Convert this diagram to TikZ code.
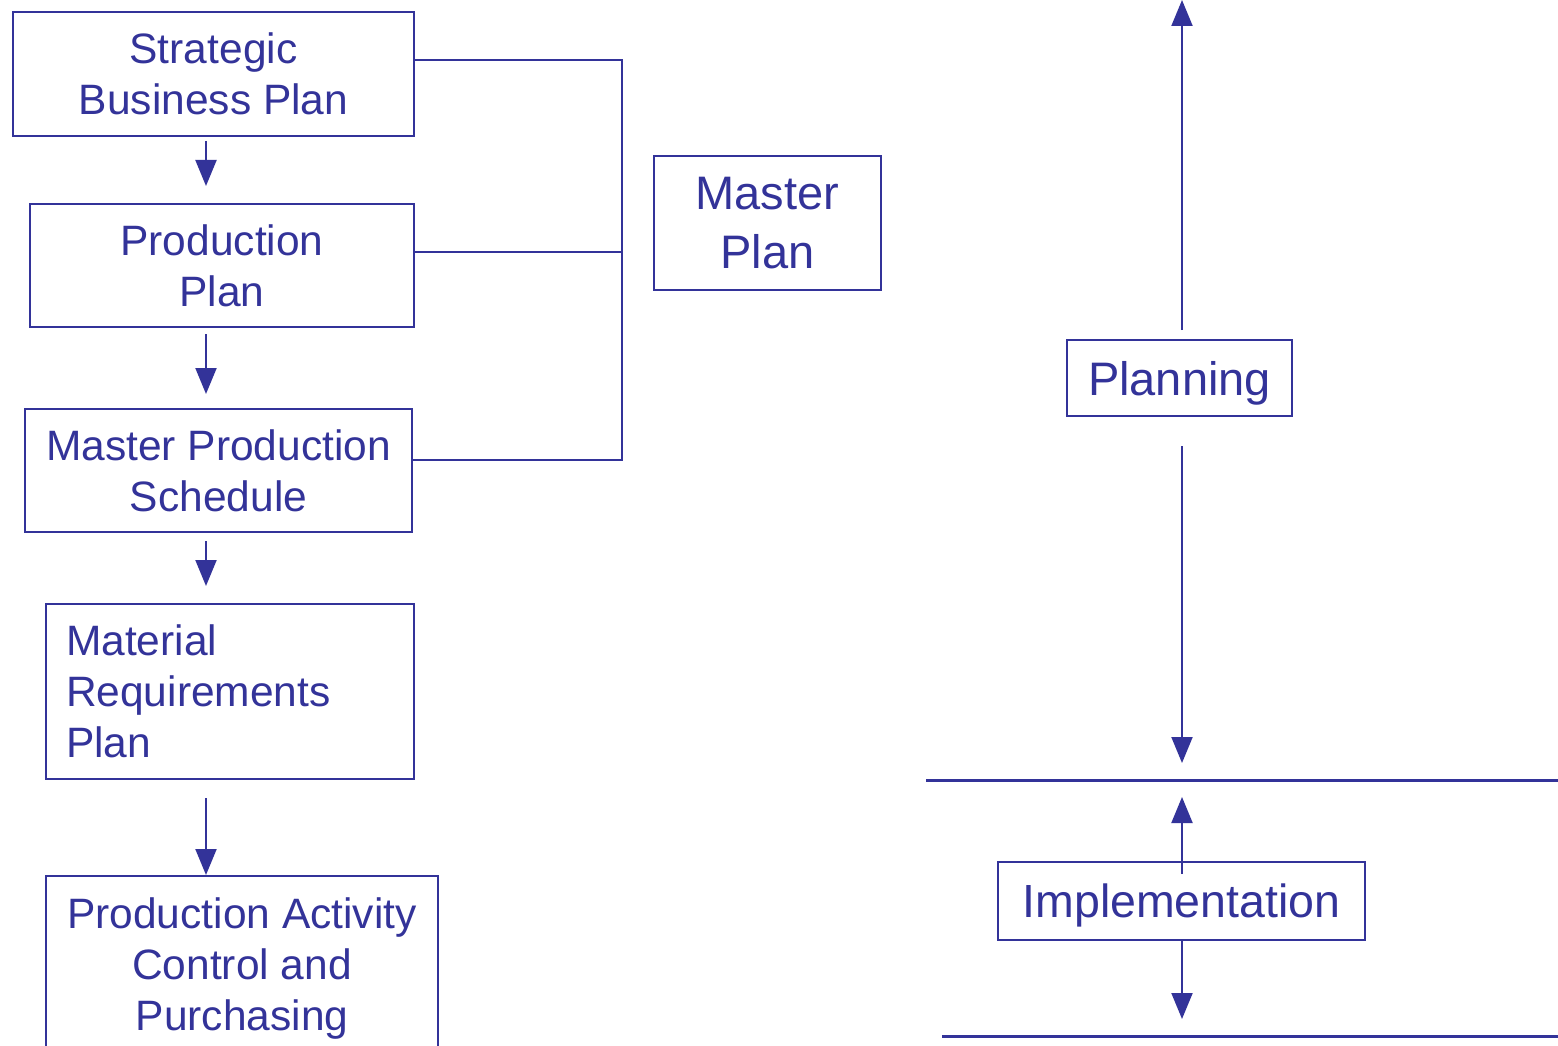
\documentclass[tikz,border=0pt]{standalone}
\usepackage{fontspec}
\setmainfont{Liberation Sans}
\usetikzlibrary{arrows.meta}
\definecolor{mpblue}{HTML}{333399}
\tikzset{
  box/.style={draw=mpblue, line width=2pt, text=mpblue, inner sep=0pt,
    font=\fontsize{42.5}{51}\selectfont, align=center},
  bigbox/.style={box, font=\fontsize{47}{59}\selectfont},
  arr/.style={draw=mpblue, line width=2pt, -{Triangle[length=26pt,width=21pt]}},
  link/.style={draw=mpblue, line width=2pt},
  rule/.style={draw=mpblue, line width=3pt}
}
\begin{document}
\begin{tikzpicture}[x=1pt,y=-1pt]
\useasboundingbox (0,0) rectangle (1558,1046);
% left column
\node[box, minimum width=401pt, minimum height=124pt] (sbp) at (213.5,74) {Strategic\\Business Plan};
\node[box, minimum width=384pt, minimum height=123pt] (pp) at (222,265.5) {Production\\Plan};
\node[box, minimum width=387pt, minimum height=123pt] (mps) at (218.5,470.5) {Master Production\\Schedule};
\node[box, minimum width=368pt, minimum height=175pt, align=left, text width=328pt, inner xsep=20pt] (mrp) at (230,691.5) {Material\\Requirements\\Plan};
\node[box, minimum width=392pt, minimum height=176pt] (pac) at (242,964) {\rule{0pt}{39pt}Production Activity\\Control and\\Purchasing};
\coordinate (ax) at (206,0);
\draw[arr, shorten <=4pt, shorten >=17pt] (sbp.south -| ax) -- (pp.north -| ax);
\draw[arr, shorten <=6pt, shorten >=14pt] (pp.south -| ax) -- (mps.north -| ax);
\draw[arr, shorten <=8pt, shorten >=17pt] (mps.south -| ax) -- (mrp.north -| ax);
\draw[arr, shorten <=18pt, shorten >=0pt] (mrp.south -| ax) -- (pac.north -| ax);
% bracket
\coordinate (b1) at (622,60);
\coordinate (b2) at (622,252);
\coordinate (b3) at (622,460);
\draw[link] (sbp.east |- b1) -- (b1) -- (b3) -- (mps.east |- b3);
\draw[link] (pp.east |- b2) -- (b2);
\node[bigbox, minimum width=227pt, minimum height=134pt] (mp) at (767.5,223) {Master\\Plan};
% right side
\node[bigbox, minimum width=225pt, minimum height=76pt, text depth=0pt] (plan) at (1179.5,378) {Planning};
\node[bigbox, minimum width=367pt, minimum height=78pt, text depth=0pt, font=\fontsize{46.5}{56}\selectfont] (impl) at (1181.5,901) {Implementation};
\coordinate (top) at (1182,0);
\coordinate (r1a) at (926,780);
\coordinate (r1b) at (1558,780);
\coordinate (r2a) at (942,1036);
\coordinate (r2b) at (1558,1036);
\draw[rule] (r1a) -- (r1b);
\draw[rule] (r2a) -- (r2b);
\draw[arr, shorten <=9pt] (plan.north -| top) -- (top);
\draw[arr, shorten <=29pt, shorten >=17pt] (plan.south -| top) -- (r1a -| top);
\draw[arr, shorten >=17pt] (impl.north -| top) ++(0,13) -- (r1a -| top);
\draw[arr, shorten >=17pt] (impl.south -| top) -- (r2a -| top);
\end{tikzpicture}
\end{document}
